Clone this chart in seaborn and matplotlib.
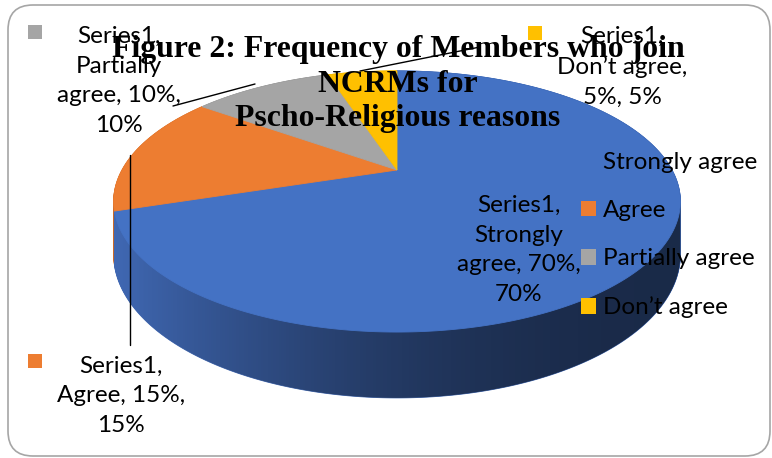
import textwrap
import numpy as np
import matplotlib
matplotlib.use("Agg")
import matplotlib.pyplot as plt
import matplotlib.transforms as mtransforms
from matplotlib.path import Path
from matplotlib.patches import FancyBboxPatch, Patch, PathPatch
import seaborn as sns

# ---------------- data ----------------
categories = ["Strongly agree", "Agree", "Partially agree", "Don\u2019t agree"]
percentages = [70, 15, 10, 5]
series_name = "Series1"
title_lines = ["Figure 2: Frequency of Members who join", "NCRMs for",
               "Pscho-Religious reasons"]

# ---------------- style ----------------
top_colors = ["#4472C4", "#ED7D31", "#A5A5A5", "#FFC000"]
side_colors = ["#4068B3", "#C96A2A", "#8C8C8C", "#D9A300"]

sns.set_theme(style="white")
plt.rcParams["font.family"] = ["Lato", "DejaVu Sans"]
plt.rcParams["text.color"] = "#000000"

W, H = 772, 458
fig = plt.figure(figsize=(W / 100, H / 100), dpi=100)
ax = fig.add_axes([0, 0, 1, 1])

# perspective projection of the pie (pixel space)
CX, CY = 397.0, 170.0
A, B, K = 275.0, 123.0, 0.241
DEPTH = 50.0


class PieProjection(mtransforms.Transform):
    input_dims = output_dims = 2
    is_separable = False

    def __init__(self, drop):
        super().__init__()
        self.drop = drop

    def transform_non_affine(self, values):
        values = np.asarray(values, float).reshape(-1, 2)
        u, v = values[:, 0], values[:, 1]
        w = 1.0 + K * v
        return np.column_stack([CX + A * u / w,
                                CY - B * v / w + self.drop * DEPTH / w])

    def transform_path_non_affine(self, path):
        pts, codes = [], []
        for seg, code in path.iter_bezier():
            cp = seg.control_points
            if code == Path.MOVETO:
                pts.append(cp[0])
                codes.append(Path.MOVETO)
                continue
            n = 1 if len(cp) == 2 else 60
            t = np.linspace(0, 1, n + 1)[1:]
            new = seg(t)
            pts.extend(list(new))
            codes.extend([Path.LINETO] * len(new))
        return Path(self.transform_non_affine(np.array(pts)), codes)


def draw_pie(colors, drop, z):
    wedges, _ = ax.pie(percentages, colors=colors, startangle=90,
                       counterclock=False, radius=1, center=(0, 0),
                       wedgeprops=dict(linewidth=0.6))
    tr = PieProjection(drop) + ax.transData
    for w, c in zip(wedges, colors):
        w.set_transform(tr)
        w.set_zorder(z)
        w.set_edgecolor(c)
    return wedges


def reset_axes():
    ax.set_aspect("auto")
    ax.set_xlim(0, W)
    ax.set_ylim(H, 0)
    ax.set_autoscale_on(False)
    ax.axis("off")


reset_axes()

# side of the 3D pie: stacked layers
for drop in np.linspace(1, 0, 70):
    draw_pie(side_colors, drop, 1)
reset_axes()


# horizontal shading of the side
def convex_hull(points):
    pts = sorted(set(map(tuple, np.round(points, 3))))

    def cross(o, a, b):
        return (a[0] - o[0]) * (b[1] - o[1]) - (a[1] - o[1]) * (b[0] - o[0])

    lower, upper = [], []
    for p in pts:
        while len(lower) >= 2 and cross(lower[-2], lower[-1], p) <= 0:
            lower.pop()
        lower.append(p)
    for p in reversed(pts):
        while len(upper) >= 2 and cross(upper[-2], upper[-1], p) <= 0:
            upper.pop()
        upper.append(p)
    return np.array(lower[:-1] + upper[:-1])


circle = Path.unit_circle()
p0 = PieProjection(0).transform_path_non_affine(circle).vertices
p1 = PieProjection(1).transform_path_non_affine(circle).vertices
hull = convex_hull(np.vstack([p0, p1]))
clip = PathPatch(Path(np.vstack([hull, hull[:1]]), closed=True),
                 transform=ax.transData, facecolor="none", edgecolor="none")
ax.add_patch(clip)

xs = np.linspace(0, W, W)
x_left, x_right = CX - A * 1.03, CX + A * 1.03
frac = np.clip((x_right - xs) / (x_right - x_left), 0, 1)
alpha = 0.6 * (1 - frac ** 2)
grad = np.zeros((1, W, 4))
grad[0, :, 3] = alpha
img = ax.imshow(grad, extent=(0, W, H, 0), aspect="auto", zorder=2,
                interpolation="bilinear")
img.set_clip_path(clip)
reset_axes()

# top surface
top_wedges = draw_pie(top_colors, 0.0, 3)
reset_axes()

# ---------------- labels ----------------
label_center = [(519, 250), (121, 396), (119, 81), (622, 67)]
label_wrap = [11, 11, 11, 12]
key_pos = [(435, 199), (35, 361), (35, 32), (535, 33)]
leaders = [None, ((130, 155), (130, 345)), ((173, 106), (255, 84)),
           ((360, 71), (480, 47))]

LABEL_FS = 17.5
for i, (cat, p) in enumerate(zip(categories, percentages)):
    txt = "\n".join(textwrap.wrap(f"{series_name}, {cat}, {p}%, {p}%",
                                  width=label_wrap[i]))
    ax.text(*label_center[i], txt, ha="center", va="center",
            fontsize=LABEL_FS, color="#000000", linespacing=1.52, zorder=6)
    ax.scatter(*key_pos[i], marker="s", s=100, color=top_colors[i],
               linewidths=0, zorder=6)
    if leaders[i] is not None:
        (x0, y0), (x1, y1) = leaders[i]
        ax.plot([x0, x1], [y0, y1], color="black", lw=1.0, zorder=5)

# legend
handles = [Patch(facecolor=c, edgecolor="none") for c in top_colors]
leg = ax.legend(handles, categories, loc="center left",
                bbox_to_anchor=(581, 235), bbox_transform=ax.transData,
                frameon=False, fontsize=LABEL_FS, handlelength=0.62,
                handleheight=0.62, handletextpad=0.29, labelspacing=1.12,
                borderpad=0, borderaxespad=0, labelcolor="#000000")
leg.set_zorder(7)

# title
ax.text(398, 84, "\n".join(title_lines), ha="center", va="center",
        fontfamily=["Liberation Serif", "DejaVu Serif"], fontweight="bold",
        fontsize=22.9, linespacing=1.25, zorder=8, color="#000000")

# chart border
ax.add_patch(FancyBboxPatch((8, 5), 762, 451,
                            boxstyle="round,pad=0,rounding_size=25",
                            fill=False, edgecolor="#A6A6A6", lw=1.2,
                            zorder=9))
reset_axes()

fig.savefig("out.png", dpi=100)
